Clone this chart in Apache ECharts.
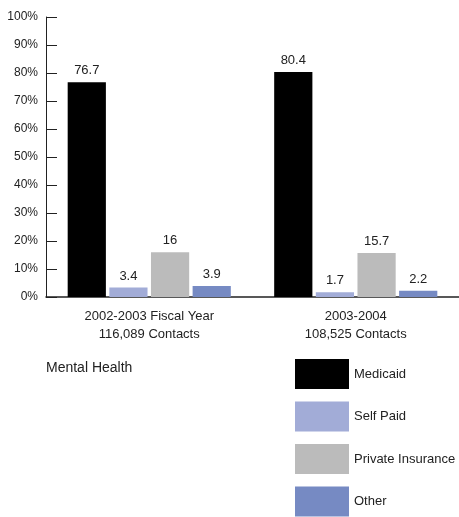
<!DOCTYPE html>
<html><head><meta charset="utf-8">
<script src="https://cdn.jsdelivr.net/npm/echarts@6/dist/echarts.min.js"></script>
<style>html,body{margin:0;padding:0;background:#fff}#c{width:459px;height:517px}</style>
</head><body><div id="c"></div>
<script>
const categories = ['2002-2003 Fiscal Year\n116,089 Contacts', '2003-2004\n108,525 Contacts'];
const medicaid = [76.7, 80.4];
const selfPaid = [3.4, 1.7];
const privateIns = [16, 15.7];
const other = [3.9, 2.2];
const seriesNames = ['Medicaid', 'Self Paid', 'Private Insurance', 'Other'];
const colors = ['#000000', '#a2acd7', '#bbbbbb', '#768ac3'];
const FONT = '"Liberation Sans Narrow", "Liberation Sans", Arial, sans-serif';

const chart = echarts.init(document.getElementById('c'), null, {renderer: 'canvas'});
const dataSets = [medicaid, selfPaid, privateIns, other];
chart.setOption({
  animation: false,
  textStyle: {fontFamily: FONT},
  title: {text: 'Mental Health', left: 46, top: 361, padding: 0, textStyle: {fontFamily: FONT, fontSize: 14, fontWeight: 'normal', color: '#222'}},
  legend: {
    type: 'plain', orient: 'vertical', left: 295, top: 359, padding: 0, itemWidth: 54, itemHeight: 30, itemGap: 12.5,
    height: 158,
    icon: 'rect', textStyle: {fontFamily: FONT, fontSize: 13, color: '#222'},
    data: seriesNames
  },
  grid: {left: 46, right: 0, top: 17, bottom: 220, containLabel: false},
  xAxis: {
    type: 'category', data: categories,
    axisLine: {lineStyle: {color: '#222', width: 1.5}},
    axisTick: {inside: true, length: 7, lineStyle: {color: '#222'}},
    axisLabel: {fontFamily: FONT, fontSize: 13, color: '#222', lineHeight: 18, margin: 10}
  },
  yAxis: {
    type: 'value', min: 0, max: 100, interval: 10,
    splitLine: {show: false},
    axisLine: {show: true, lineStyle: {color: '#222', width: 1}},
    axisTick: {show: true, inside: true, length: 11, lineStyle: {color: '#222'}},
    axisLabel: {formatter: '{value}%', fontFamily: FONT, fontSize: 12, color: '#222', margin: 8}
  },
  series: seriesNames.map((n, i) => ({
    name: n, type: 'bar', data: dataSets[i], barGap: '9%', barCategoryGap: '21%',
    itemStyle: {color: colors[i]},
    label: {show: true, position: 'top', distance: 5, fontFamily: FONT, fontSize: 13, color: '#222'}
  }))
});
</script></body></html>
